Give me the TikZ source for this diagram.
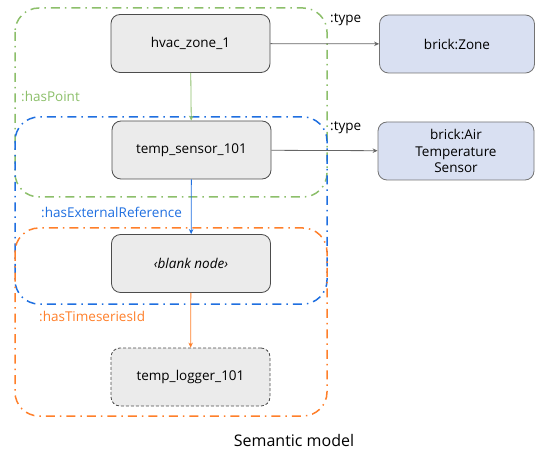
\documentclass[tikz,border=0pt]{standalone}
\usepackage{fontspec}
\setmainfont{Open Sans}
\usetikzlibrary{arrows.meta}
\definecolor{grpgreen}{HTML}{8CBF6A}
\definecolor{grpblue}{HTML}{1F6FE0}
\definecolor{grporange}{HTML}{FF7F2A}
\definecolor{clsfill}{HTML}{D9E0F2}
\begin{document}
\begin{tikzpicture}[x=1pt,y=-1pt,font=\fontsize{13.5}{16}\selectfont]
\tikzset{inst/.style={draw=black!70, fill=black!8, rounded corners=9pt, minimum width=159pt, minimum height=58pt, line width=0.8pt},
  cls/.style={draw=black!55, fill=clsfill, rounded corners=9pt, minimum width=155pt, minimum height=58pt, align=center, line width=0.8pt},
  grp/.style={rounded corners=24pt, line width=1.5pt, dash pattern=on 9pt off 5pt on 1.5pt off 5pt},
  rel/.style={-{Stealth[length=5pt,width=4.5pt]}, line width=0.8pt}}
\useasboundingbox (0,0) rectangle (535,454);
% groups
\draw[grp, grpgreen] (15,8) rectangle (327,197);
\draw[grp, grpblue] (15,117) rectangle (327,304);
\draw[grp, grporange] (15,228) rectangle (327,416);
% nodes
\node[inst] (zone1) at (190.5,43.5) {hvac\_zone\_1};
\node[inst] (sensor) at (191.5,150) {temp\_sensor\_101};
\node[inst] (blank) at (191,263.5) {\itshape ‹blank node›};
\node[inst, densely dashed] (logger) at (190.5,377) {temp\_logger\_101};
\node[cls] (zonecls) at (457,44) {brick:Zone};
\node[cls, minimum width=156pt, font=\fontsize{13.5}{16.5}\selectfont] (aircls) at (456,151) {brick:Air\\Temperature\\Sensor};
% edges
\draw[rel, grpgreen] (zone1) -- (sensor);
\draw[rel, grpblue] (sensor) -- (blank);
\draw[rel, grporange] (blank) -- (logger);
\draw[rel, black!60] (zone1) -- (zonecls);
\draw[rel, black!60] (sensor) -- (aircls);
% labels
\node[anchor=west, text=grpgreen, inner sep=0] (lpoint) at (21,96) {:hasPoint};
\node[anchor=west, text=grpblue, inner sep=0] (lext) at (41,212) {:hasExternalReference};
\node[anchor=west, text=grporange, inner sep=0] (lts) at (39,316) {:hasTimeseriesId};
\node[anchor=west, inner sep=0] (ltype1) at (330,20) {:type};
\node[anchor=west, inner sep=0] (ltype2) at (330,128) {:type};
\node[font=\fontsize{16}{19}\selectfont] (title) at (294,440) {Semantic model};
\end{tikzpicture}
\end{document}
